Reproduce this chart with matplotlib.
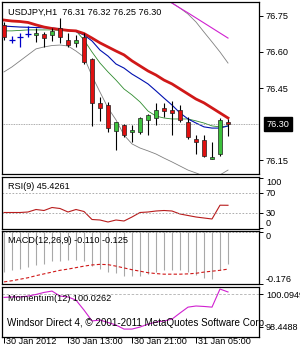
import numpy as np
import matplotlib
matplotlib.use('Agg')
import matplotlib.pyplot as plt

plt.rcParams['font.family'] = ['Liberation Sans', 'DejaVu Sans']

# candles (USDJPY H1), index 0 = 30 Jan 05:00
opens = [76.713, 76.650, 76.663, 76.675, 76.671, 76.675, 76.671, 76.700, 76.650, 76.638,
         76.663, 76.571, 76.388, 76.379, 76.271, 76.296, 76.267, 76.267, 76.317, 76.325,
         76.367, 76.358, 76.358, 76.308, 76.238, 76.233, 76.154, 76.175, 76.31]
highs = [76.725, 76.667, 76.679, 76.708, 76.700, 76.683, 76.700, 76.742, 76.679, 76.671,
         76.679, 76.575, 76.413, 76.392, 76.310, 76.300, 76.296, 76.330, 76.340, 76.388,
         76.388, 76.396, 76.379, 76.329, 76.254, 76.254, 76.225, 76.325, 76.32]
lows = [76.650, 76.638, 76.621, 76.663, 76.642, 76.621, 76.646, 76.638, 76.621, 76.621,
        76.550, 76.292, 76.313, 76.267, 76.192, 76.246, 76.225, 76.260, 76.254, 76.296,
        76.329, 76.254, 76.308, 76.238, 76.175, 76.163, 76.154, 76.167, 76.25]
closes = [76.663, 76.650, 76.663, 76.675, 76.679, 76.658, 76.688, 76.663, 76.629, 76.650,
          76.558, 76.388, 76.367, 76.283, 76.308, 76.254, 76.275, 76.325, 76.338, 76.358,
          76.354, 76.346, 76.317, 76.246, 76.225, 76.167, 76.163, 76.317, 76.30]

ma_slow = [76.733, 76.729, 76.727, 76.723, 76.713, 76.704, 76.698, 76.694, 76.690, 76.688,
           76.677, 76.658, 76.638, 76.621, 76.604, 76.588, 76.563, 76.542, 76.521, 76.504,
           76.483, 76.467, 76.446, 76.425, 76.404, 76.388, 76.367, 76.346, 76.325]
ma_mid = [76.708, 76.706, 76.704, 76.703, 76.702, 76.701, 76.700, 76.696, 76.690, 76.685,
          76.671, 76.646, 76.608, 76.583, 76.550, 76.533, 76.508, 76.488, 76.467, 76.438,
          76.408, 76.379, 76.346, 76.321, 76.304, 76.288, 76.283, 76.283, 76.292]
ma_fast = [76.688, 76.688, 76.690, 76.692, 76.692, 76.692, 76.692, 76.690, 76.688, 76.688,
           76.650, 76.600, 76.554, 76.517, 76.483, 76.446, 76.421, 76.392, 76.354, 76.333,
           76.325, 76.321, 76.321, 76.321, 76.313, 76.304, 76.292, 76.288, 76.292]
band_low = [76.517, 76.538, 76.563, 76.588, 76.613, 76.621, 76.627, 76.629, 76.625, 76.604,
            76.579, 76.500, 76.433, 76.367, 76.317, 76.254, 76.217, 76.200, 76.188, 76.175,
            76.158, 76.142, 76.125, 76.108, 76.096, 76.083, 76.079, 76.088, 76.108]
band_up = [np.nan] * 19 + [76.858, 76.833, 76.804, 76.783, 76.758, 76.725, 76.683, 76.642, 76.600, 76.554]
env_up = [np.nan] * 19 + [76.846, 76.825, 76.804, 76.783, 76.763, 76.742, 76.721, 76.700, 76.679, 76.658]

rsi = [31, 31, 31, 32, 37, 35, 41, 39, 32, 37, 33, 17, 16, 12, 16, 14, 22, 31, 32, 34,
       35, 34, 28, 25, 22, 20, 18, 45.6, 45.43]
macd = [-0.135, -0.130, -0.125, -0.118, -0.112, -0.108, -0.100, -0.098, -0.097, -0.095,
        -0.100, -0.115, -0.125, -0.135, -0.140, -0.150, -0.150, -0.148, -0.142, -0.135,
        -0.130, -0.128, -0.130, -0.137, -0.145, -0.155, -0.160, -0.130, -0.110]
signal = [-0.169, -0.165, -0.160, -0.155, -0.148, -0.142, -0.136, -0.130, -0.126, -0.121,
          -0.116, -0.112, -0.110, -0.111, -0.116, -0.122, -0.128, -0.133, -0.138, -0.141,
          -0.143, -0.143, -0.143, -0.142, -0.140, -0.136, -0.133, -0.130, -0.126]
momentum = [99.85, 99.87, 99.87, 99.91, 99.98, 100.07, 100.13, 99.91, 99.87, 99.73,
            99.29, 98.81, 98.85, 98.74, 98.63, 98.45, 98.45, 98.54, 98.67, 98.76,
            98.81, 98.89, 99.16, 99.42, 99.47, 99.45, 99.42, 100.22, 100.09]

time_ticks = [0, 8, 16, 24]
time_labels = ['30 Jan 2012', '30 Jan 13:00', '30 Jan 21:00', '31 Jan 05:00']
price_ticks = [76.75, 76.60, 76.45, 76.15]
last_price = 76.30

W, H = 300, 350
fig = plt.figure(figsize=(3, 3.5), dpi=100)


def box(x0, y0, x1, y1):
    return [x0 / W, 1 - y1 / H, (x1 - x0) / W, (y1 - y0) / H]


ax = fig.add_axes(box(2, 2, 259, 174))
ax_rsi = fig.add_axes(box(2, 177, 259, 229))
ax_macd = fig.add_axes(box(2, 231, 259, 284))
ax_mom = fig.add_axes(box(2, 287, 259, 337))

n = len(closes)
idx = np.arange(n)
fs = 6.6

for a in (ax, ax_rsi, ax_macd, ax_mom):
    a.set_xlim(-0.25, 31.875)
    a.yaxis.tick_right()
    a.tick_params(axis='y', length=3, width=0.7, pad=2, labelsize=fs, direction='out')
    a.tick_params(axis='x', length=0, labelbottom=False)
    for s in a.spines.values():
        s.set_linewidth(0.9)
        s.set_color('black')

# main chart
ax.set_ylim(76.0917, 76.8083)
ax.plot(idx, band_low, color='#808080', lw=0.6)
ax.plot(idx, band_up, color='#808080', lw=0.6)
ax.plot(idx, env_up, color='#d020d0', lw=0.8)
ax.plot(idx, ma_fast, color='#2e8b2e', lw=0.6)
ax.plot(idx, ma_mid, color='#0010b0', lw=0.8)
ax.plot(idx, ma_slow, color='#d01818', lw=2.0)
ax.axhline(last_price, color='#909090', lw=0.6, ls=(0, (1, 1)))

for i in range(n):
    o, h, l, c = opens[i], highs[i], lows[i], closes[i]
    if o == c:
        ax.vlines(i, l, h, color='#0000c8', lw=0.9, zorder=3)
        ax.hlines(o, i - 0.35, i + 0.35, color='#0000c8', lw=0.9, zorder=3)
        continue
    col = '#3cc03c' if c > o else '#e01010'
    ax.vlines(i, l, h, color='black', lw=0.8, zorder=3)
    ax.bar(i, abs(c - o), bottom=min(o, c), width=0.62, color=col,
           edgecolor='#202020', lw=0.5, zorder=4)

ax.set_yticks(price_ticks)
ax.set_yticklabels(['%.2f' % v for v in price_ticks])
ax.text(1.03, (last_price - 76.0917) / (76.8083 - 76.0917), '%.2f' % last_price,
        transform=ax.transAxes, ha='left', va='center', fontsize=fs, color='white',
        bbox=dict(boxstyle='square,pad=0.3', fc='black', ec='black'), clip_on=False)
ax.text(0.025, 0.965, 'USDJPY,H1  %.2f %.2f %.2f %.2f' % (opens[-1], highs[-1], lows[-1], closes[-1]),
        transform=ax.transAxes, ha='left', va='top', fontsize=fs)

# RSI
ax_rsi.set_ylim(-2, 102)
ax_rsi.plot(idx, rsi, color='#b81c1c', lw=0.8)
for lv in (70, 30):
    ax_rsi.axhline(lv, color='#a0a0a0', lw=0.6, ls=(0, (2, 2)))
ax_rsi.set_yticks([100, 70, 30, 0])
ax_rsi.set_yticklabels(['100', '70', '30', '0'])
lbl = ax_rsi.get_yticklabels()
lbl[0].set_va('top')
lbl[3].set_va('bottom')
ax_rsi.text(0.025, 0.9, 'RSI(9) %.4f' % 45.4261, transform=ax_rsi.transAxes,
            ha='left', va='top', fontsize=fs)

# MACD
ax_macd.set_ylim(-0.176, 0.002)
ax_macd.vlines(idx, macd, 0, color='#a8a8a8', lw=0.8)
ax_macd.axhline(0, color='#a0a0a0', lw=0.6, ls=(0, (2, 2)))
ax_macd.plot(idx, signal, color='#d01818', lw=0.8, ls=(0, (3, 2)))
ax_macd.set_yticks([0, -0.176])
ax_macd.set_yticklabels(['0', '-0.176'])
lbl = ax_macd.get_yticklabels()
lbl[0].set_va('top')
lbl[1].set_va('bottom')
ax_macd.text(0.025, 0.9, 'MACD(12,26,9) %.3f %.3f' % (macd[-1], -0.125),
             transform=ax_macd.transAxes, ha='left', va='top', fontsize=fs)

# Momentum
ax_mom.set_ylim(98.10, 100.31)
ax_mom.axhline(100, color='#b0b0b0', lw=0.6, ls=(0, (3, 2)))
ax_mom.plot(idx, momentum, color='#d020d0', lw=0.8)
ax_mom.set_yticks([100, 98.55])
ax_mom.set_yticklabels(['100.0949', '98.4488'])
ax_mom.text(0.025, 0.86, 'Momentum(12) 100.0262', transform=ax_mom.transAxes,
            ha='left', va='top', fontsize=fs)
ax_mom.text(0.02, 0.27, 'Windsor Direct 4, \u00a9 2001-2011 MetaQuotes Software Corp.',
            transform=ax_mom.transAxes, ha='left', va='center', fontsize=7.1, clip_on=False)

# time axis
ax_mom.set_xticks(time_ticks)
ax_mom.tick_params(axis='x', length=4, width=0.7, labelbottom=False)
for t, s in zip(time_ticks, time_labels):
    ax_mom.text(t + 0.3, -0.1, s, transform=ax_mom.get_xaxis_transform(),
                ha='left', va='center', fontsize=fs, clip_on=False)

fig.savefig('out.png', dpi=100, facecolor='white')
